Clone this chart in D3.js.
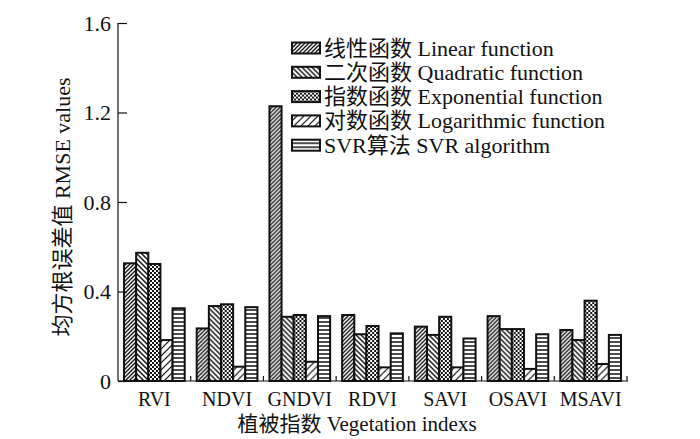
<!DOCTYPE html>
<meta charset="utf-8">
<style>
    body { margin: 0; background: #fff; }
    text { font-family: "Liberation Serif", "Noto Sans CJK SC", serif; fill: #111; }
    .bar { stroke: #111; stroke-width: 2px; }
    .axis path, .axis line { stroke: #111; stroke-width: 1.2px; }
</style>
<body>
<script src="https://cdn.jsdelivr.net/npm/d3@7"></script>
<script>

// Categories and series
var indexes = ["RVI", "NDVI", "GNDVI", "RDVI", "SAVI", "OSAVI", "MSAVI"];
var methods = ["线性函数 Linear function", "二次函数 Quadratic function", "指数函数 Exponential function",
               "对数函数 Logarithmic function", "SVR算法 SVR algorithm"];

// RMSE values per method
var linearVals = [0.526, 0.235, 1.228, 0.295, 0.243, 0.290, 0.228];
var quadraticVals = [0.573, 0.335, 0.287, 0.209, 0.206, 0.232, 0.183];
var exponentialVals = [0.523, 0.343, 0.295, 0.246, 0.287, 0.232, 0.359];
var logarithmicVals = [0.183, 0.064, 0.086, 0.061, 0.061, 0.054, 0.076];
var svrVals = [0.325, 0.330, 0.290, 0.213, 0.190, 0.209, 0.206];

var yTicks = [0, 0.4, 0.8, 1.2, 1.6];

var series = [linearVals, quadraticVals, exponentialVals, logarithmicVals, svrVals];
var patterns = ["p-linear", "p-quad", "p-exp", "p-log", "p-svr"];

var width = 700, height = 439;
var svg = d3.select("body").append("svg")
    .attr("width", width)
    .attr("height", height);

// Patterns
var defs = svg.append("defs");

function hatch(id, size, lines, sw) {
    var p = defs.append("pattern")
        .attr("id", id)
        .attr("patternUnits", "userSpaceOnUse")
        .attr("width", size).attr("height", size);
    p.append("rect").attr("width", size).attr("height", size).attr("fill", "#fff");
    lines.forEach(function(l) {
        p.append("line")
            .attr("x1", l[0]).attr("y1", l[1]).attr("x2", l[2]).attr("y2", l[3])
            .attr("stroke", "#111").attr("stroke-width", sw);
    });
}
// forward slash, dense
hatch("p-linear", 4, [[0, 4, 4, 0], [-1, 1, 1, -1], [3, 5, 5, 3]], 1.3);
// backslash
hatch("p-quad", 5, [[0, 0, 5, 5], [-1, 4, 1, 6], [4, -1, 6, 1]], 1.4);
// forward slash, sparse
hatch("p-log", 7, [[0, 7, 7, 0], [-1, 1, 1, -1], [6, 8, 8, 6]], 1.2);
// horizontal lines
hatch("p-svr", 4, [[0, 2, 4, 2]], 1.5);
// checker pattern
var pe = defs.append("pattern")
    .attr("id", "p-exp")
    .attr("patternUnits", "userSpaceOnUse")
    .attr("width", 4).attr("height", 4);
pe.append("rect").attr("width", 4).attr("height", 4).attr("fill", "#fff");
pe.append("rect").attr("x", 0).attr("y", 0).attr("width", 2).attr("height", 2).attr("fill", "#111");
pe.append("rect").attr("x", 2).attr("y", 2).attr("width", 2).attr("height", 2).attr("fill", "#111");

// Scales
var x0 = d3.scaleBand().domain(indexes).range([118, 627]).padding(0);
var x1 = d3.scaleBand().domain(d3.range(methods.length)).range([6, x0.bandwidth() - 6]).padding(0);
var y = d3.scaleLinear().domain([0, 1.6]).range([381, 23]);

// Bars
var groups = svg.append("g").selectAll("g")
    .data(indexes)
    .enter().append("g")
    .attr("transform", function(d) { return "translate(" + x0(d) + ",0)"; });

groups.selectAll("rect")
    .data(function(d, i) { return series.map(function(s, k) { return {k: k, v: s[i]}; }); })
    .enter().append("rect")
    .attr("class", "bar")
    .attr("x", function(d) { return x1(d.k); })
    .attr("width", x1.bandwidth())
    .attr("y", function(d) { return y(d.v); })
    .attr("height", function(d) { return y(0) - y(d.v); })
    .attr("fill", function(d) { return "url(#" + patterns[d.k] + ")"; });

// Y axis (ticks inside)
var yAxis = svg.append("g")
    .attr("class", "axis")
    .attr("transform", "translate(118,0)")
    .call(d3.axisLeft(y).tickValues(yTicks).tickSize(-9).tickSizeOuter(0)
        .tickFormat(function(d) { return d === 0 ? "0" : d3.format(".1f")(d); }));
yAxis.select(".domain").attr("d", "M0," + y(1.6) + "V" + y(0));
yAxis.selectAll("text")
    .attr("x", -7)
    .style("font-size", "22px")
    .style("font-family", "Liberation Serif");

// X axis
var xAxis = svg.append("g")
    .attr("class", "axis")
    .attr("transform", "translate(0," + y(0) + ")");
xAxis.append("line").attr("x1", 118).attr("x2", 628).attr("y1", 0).attr("y2", 0);
xAxis.selectAll(".tk")
    .data(indexes)
    .enter().append("line")
    .attr("x1", function(d) { return x0(d) + x0.bandwidth(); })
    .attr("x2", function(d) { return x0(d) + x0.bandwidth(); })
    .attr("y1", 0).attr("y2", -5);
xAxis.selectAll("text")
    .data(indexes)
    .enter().append("text")
    .attr("x", function(d) { return x0(d) + x0.bandwidth() / 2; })
    .attr("y", 25)
    .attr("text-anchor", "middle")
    .style("font-size", "20px")
    .text(function(d) { return d; });

// Axis titles
svg.append("text")
    .attr("transform", "translate(70,207)rotate(-90)")
    .attr("text-anchor", "middle")
    .style("font-size", "22px")
    .text("均方根误差值 RMSE values");

svg.append("text")
    .attr("x", 357)
    .attr("y", 431)
    .attr("text-anchor", "middle")
    .style("font-size", "21px")
    .text("植被指数 Vegetation indexs");

// Legend
var legend = svg.append("g").selectAll("g")
    .data(methods)
    .enter().append("g")
    .attr("transform", function(d, i) { return "translate(292," + (48 + i * 24.3) + ")"; });

legend.append("rect")
    .attr("class", "bar")
    .attr("x", 0).attr("y", -5.5)
    .attr("width", 28).attr("height", 11)
    .attr("fill", function(d, i) { return "url(#" + patterns[i] + ")"; });

legend.append("text")
    .attr("x", 32)
    .attr("y", 7.5)
    .style("font-size", "22px")
    .text(function(d) { return d; });

</script>
</body>
